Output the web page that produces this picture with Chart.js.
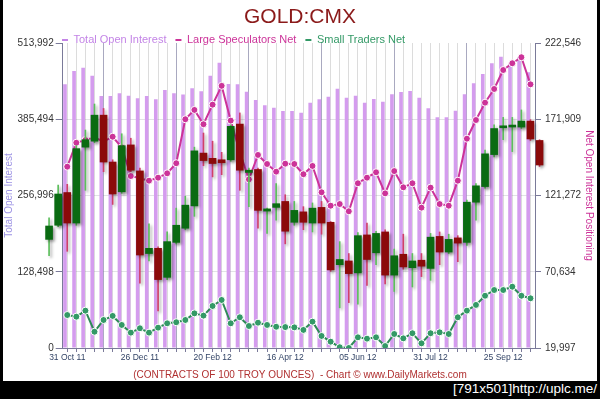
<!DOCTYPE html>
<html>
<head>
<meta charset="utf-8">
<script src="https://cdn.jsdelivr.net/npm/chart.js@4.4.1/dist/chart.umd.min.js"></script>
<style>
  html, body { margin: 0; padding: 0; background: #000; }
  #frame { position: relative; width: 600px; height: 399px; background: #000; overflow: hidden; }
  #chart { position: absolute; left: 3px; top: 0; background: #fff; }
  #stamp { position: absolute; right: 3px; top: 381px; height: 18px; line-height: 18px; color: #fff;
           font: 13.5px "Liberation Sans", Arial, sans-serif; }
</style>
</head>
<body>
<div id="frame">
  <canvas id="chart" width="594" height="381"></canvas>
  <div id="stamp">[791x501]http://uplc.me/</div>
</div>
<script>
// weekly COT figures, 31 Oct 11 .. 23 Oct 12
var tickDates = ['31 Oct 11', '26 Dec 11', '20 Feb 12', '16 Apr 12', '05 Jun 12', '31 Jul 12', '25 Sep 12'];
var weeksPerTick = 8;

var openInterest = [
    444400, 466800, 472400, 458900, 424700, 424700, 429200, 425200, 420700, 424700,
    419100, 434800, 429200, 427000, 437600, 432600, 458900, 480800, 444900, 444400,
    431900, 417900, 409000, 405000, 399400, 399400, 396500, 413400, 419100, 423500,
    437000, 421800, 425200, 413400, 419600, 415100, 427500, 431400, 433100, 421800,
    403900, 388800, 388800, 399900, 427500, 446100, 461700, 479800, 490900, 478600,
    489900, 464600
];

var largeSpecNet = [
    140400, 156300, 158100, 159900, 157000, 160300, 153300, 134200, 132700, 131100,
    133100, 136000, 142700, 171900, 178100, 168600, 181600, 194100, 171000, 150000,
    132000, 148200, 142200, 137100, 142400, 142200, 135400, 140900, 123400, 114500,
    115600, 110800, 129400, 133100, 136700, 122700, 137500, 126700, 129400, 113200,
    126500, 115600, 114500, 131100, 159000, 171400, 182900, 192000, 204600, 209100,
    213100, 195100
];

var smallTradersNet = [
    41900, 40800, 44800, 30800, 38600, 41300, 35300, 30200, 33100, 30200,
    33500, 36400, 37100, 38600, 43000, 41500, 47900, 51900, 36400, 40400,
    34600, 36800, 35300, 34100, 33900, 33700, 32000, 37500, 28000, 24200,
    20500, 20000, 27100, 26200, 27100, 21300, 29300, 26400, 29800, 23100,
    29800, 30400, 29300, 40400, 44800, 48600, 54700, 58500, 58500, 60700,
    54700, 53000
];

var leftTicks = [0, 128498, 256996, 385494, 513992];
var rightTicks = [19997, 70634, 121272, 171909, 222546];

// gold weekly candles, they start two weeks before the first bar
var firstCandleWeek = -2;
var goldOpen = [
    1622, 1641, 1685, 1644, 1746, 1754, 1789, 1726, 1686, 1749,
    1714, 1603, 1610, 1571, 1618, 1637, 1667, 1738, 1731, 1729,
    1729, 1777, 1712, 1716, 1660, 1665, 1673, 1645, 1659, 1644,
    1665, 1645, 1588, 1593, 1577, 1628, 1604, 1632, 1574, 1602,
    1584, 1594, 1583, 1626, 1605, 1624, 1618, 1672, 1693, 1736,
    1772, 1773, 1773, 1781, 1755
];
var goldHigh = [
    1651, 1695, 1696, 1748, 1769, 1804, 1798, 1729, 1764, 1758,
    1718, 1643, 1612, 1632, 1664, 1680, 1746, 1765, 1754, 1739,
    1776, 1792, 1718, 1718, 1664, 1697, 1682, 1673, 1666, 1671,
    1673, 1646, 1619, 1603, 1631, 1644, 1633, 1635, 1609, 1629,
    1603, 1603, 1630, 1632, 1629, 1627, 1675, 1697, 1742, 1776,
    1786, 1786, 1796, 1783, 1756
];
var goldLow = [
    1600, 1639, 1606, 1641, 1688, 1752, 1713, 1669, 1684, 1713,
    1563, 1593, 1526, 1568, 1616, 1635, 1653, 1721, 1706, 1709,
    1727, 1688, 1666, 1637, 1630, 1648, 1616, 1641, 1635, 1632,
    1629, 1579, 1530, 1537, 1535, 1560, 1588, 1562, 1552, 1582,
    1558, 1572, 1567, 1588, 1603, 1592, 1614, 1648, 1691, 1733,
    1756, 1740, 1771, 1755, 1720
];
var goldClose = [
    1640, 1683, 1644, 1744, 1756, 1789, 1726, 1683, 1748, 1715,
    1601, 1610, 1568, 1619, 1641, 1668, 1741, 1728, 1724, 1725,
    1774, 1715, 1715, 1661, 1663, 1670, 1633, 1661, 1645, 1664,
    1644, 1581, 1595, 1576, 1627, 1595, 1630, 1574, 1600, 1585,
    1593, 1586, 1625, 1605, 1622, 1617, 1672, 1694, 1737, 1771,
    1774, 1774, 1781, 1757, 1722
];

var colOI = '#d49cee';
var colOIText = '#c384e6';
var colSpec = '#cc3399';
var colSmall = '#2e8b57';
var colSmallDot = '#339966';
var axisColor = '#7a7a99';
var legendColors = [colOIText, colSpec, colSmallDot];

var weekLabels = openInterest.map(function (v, i) {
    return i % weeksPerTick === 0 ? tickDates[i / weeksPerTick] : '';
});

var bodyData = goldOpen.map(function (o, k) {
    return { x: firstCandleWeek + k, y: [o, goldClose[k]] };
});
var wickData = goldOpen.map(function (o, k) {
    return { x: firstCandleWeek + k, y: [goldLow[k], goldHigh[k]] };
});

function isUp(k) {
    return goldClose[k] >= goldOpen[k];
}

function fmt(v) {
    return Number(v).toLocaleString('en-US');
}

// soft drop shadow under the candles
var candleShadow = {
    id: 'candleShadow',
    beforeDatasetDraw: function (chart, args) {
        if (args.index < 3) return;
        var ctx = chart.ctx;
        ctx.save();
        ctx.shadowColor = 'rgba(0,0,0,0.35)';
        ctx.shadowBlur = 3;
        ctx.shadowOffsetX = 2;
        ctx.shadowOffsetY = 2;
    },
    afterDatasetDraw: function (chart, args) {
        if (args.index < 3) return;
        chart.ctx.restore();
    }
};

// title and legend sit closer to the plot than the layout allows
var headerPlacement = {
    id: 'headerPlacement',
    afterLayout: function (chart) {
        var t = chart.titleBlock;
        t.top += 15;
        t.bottom += 15;
        var lg = chart.legend;
        lg.left = chart.chartArea.left - 9.7;
        lg.right = lg.left + lg.width;
        lg.top += 12.5;
        lg.bottom += 12.5;
    }
};

Chart.defaults.font.family = '"Liberation Sans", Arial, sans-serif';

new Chart(document.getElementById('chart'), {
    type: 'bar',
    data: {
        labels: weekLabels,
        datasets: [
            {
                label: 'Total Open Interest',
                data: openInterest,
                backgroundColor: colOI,
                xAxisID: 'x',
                yAxisID: 'y',
                barPercentage: 0.8,
                categoryPercentage: 1,
                order: 5
            },
            {
                type: 'line',
                label: 'Large Speculators Net',
                data: largeSpecNet,
                borderColor: colSpec,
                borderWidth: 2,
                pointRadius: 3.5,
                pointBackgroundColor: colSpec,
                pointBorderColor: '#fff',
                pointBorderWidth: 1,
                xAxisID: 'x',
                yAxisID: 'y1',
                order: 3
            },
            {
                type: 'line',
                label: 'Small Traders Net',
                data: smallTradersNet,
                borderColor: colSmall,
                borderWidth: 2,
                pointRadius: 3.5,
                pointBackgroundColor: colSmallDot,
                pointBorderColor: '#fff',
                pointBorderWidth: 1,
                xAxisID: 'x',
                yAxisID: 'y1',
                order: 2
            },
            {
                label: 'High/Low',
                data: wickData,
                backgroundColor: function (c) { return isUp(c.dataIndex) ? '#5cbf5c' : '#d0406a'; },
                xAxisID: 'xc',
                yAxisID: 'yp',
                grouped: false,
                maxBarThickness: 1,
                barPercentage: 1,
                categoryPercentage: 1,
                clip: false,
                order: 1
            },
            {
                label: 'Open/Close',
                data: bodyData,
                backgroundColor: function (c) { return isUp(c.dataIndex) ? '#0a6b12' : '#8b0a0a'; },
                xAxisID: 'xc',
                yAxisID: 'yp',
                grouped: false,
                maxBarThickness: 7,
                barPercentage: 1,
                categoryPercentage: 1,
                minBarLength: 2,
                clip: false,
                order: 0
            }
        ]
    },
    options: {
        responsive: false,
        animation: false,
        events: [],
        layout: { padding: { top: -8, left: 0, right: 0, bottom: 0 } },
        scales: {
            x: {
                type: 'category',
                offset: true,
                grid: { offset: false, color: '#dcdcdc', tickColor: axisColor, tickLength: 4 },
                border: { color: axisColor },
                ticks: { autoSkip: false, maxRotation: 0, color: '#334466', font: { size: 8.5 }, padding: 1 },
                afterFit: function (s) { s.height = 19; }
            },
            xc: {
                type: 'linear',
                position: 'top',
                min: -0.5,
                max: 51.5,
                offset: false,
                z: 1,
                ticks: { display: false, stepSize: weeksPerTick, includeBounds: false },
                grid: { color: '#a9a9c0', drawTicks: false },
                border: { display: false },
                afterFit: function (s) { s.height = 0; }
            },
            y: {
                position: 'left',
                min: leftTicks[0],
                max: leftTicks[leftTicks.length - 1],
                z: 1,
                afterBuildTicks: function (s) {
                    s.ticks = leftTicks.map(function (v) { return { value: v }; });
                },
                ticks: { color: '#333', font: { size: 10 }, padding: 2, callback: fmt },
                grid: {
                    color: function (c) {
                        return c.tick && c.tick.value === leftTicks[leftTicks.length - 1] ? 'rgba(0,0,0,0)' : 'rgba(110,110,130,0.2)';
                    },
                    tickLength: 7,
                    tickColor: axisColor
                },
                border: { color: axisColor },
                title: {
                    display: true,
                    text: 'Total Open Interest',
                    color: '#9d93e4',
                    font: { size: 10 },
                    padding: { top: 0, bottom: 0 }
                },
                afterFit: function (s) { s.width = 59.7; }
            },
            y1: {
                position: 'right',
                min: rightTicks[0],
                max: rightTicks[rightTicks.length - 1],
                afterBuildTicks: function (s) {
                    s.ticks = rightTicks.map(function (v) { return { value: v }; });
                },
                ticks: { color: '#333', font: { size: 10 }, padding: 4, callback: fmt },
                grid: { drawOnChartArea: false, tickLength: 6, tickColor: axisColor },
                border: { color: axisColor },
                title: {
                    display: true,
                    text: 'Net Open Interest Positioning',
                    color: colSpec,
                    font: { size: 10 },
                    padding: { top: 2, bottom: 0 }
                },
                afterFit: function (s) { s.width = 62; }
            },
            yp: {
                display: false,
                min: 1476,
                max: 1886
            }
        },
        plugins: {
            tooltip: { enabled: false },
            title: {
                display: true,
                text: 'GOLD:CMX',
                color: '#8b1a1a',
                font: { size: 21, weight: 'normal', lineHeight: 1 },
                padding: { top: 0, bottom: 0 }
            },
            subtitle: {
                display: true,
                position: 'bottom',
                text: '(CONTRACTS OF 100 TROY OUNCES)  - Chart \u00a9 www.DailyMarkets.com',
                color: '#b03030',
                font: { size: 10, lineHeight: 1.2 },
                padding: { top: 2, bottom: 0 }
            },
            legend: {
                display: true,
                position: 'top',
                align: 'start',
                labels: {
                    boxWidth: 6,
                    boxHeight: 2,
                    padding: 9,
                    font: { size: 11 },
                    filter: function (item) { return item.datasetIndex < 3; },
                    sort: function (a, b) { return a.datasetIndex - b.datasetIndex; },
                    generateLabels: function (chart) {
                        var items = Chart.defaults.plugins.legend.labels.generateLabels(chart);
                        items.forEach(function (it) {
                            var c = legendColors[it.datasetIndex] || '#000';
                            it.fillStyle = c;
                            it.strokeStyle = c;
                            it.fontColor = c;
                            it.lineWidth = 0;
                        });
                        return items;
                    }
                }
            }
        }
    },
    plugins: [candleShadow, headerPlacement]
});
</script>
</body>
</html>
